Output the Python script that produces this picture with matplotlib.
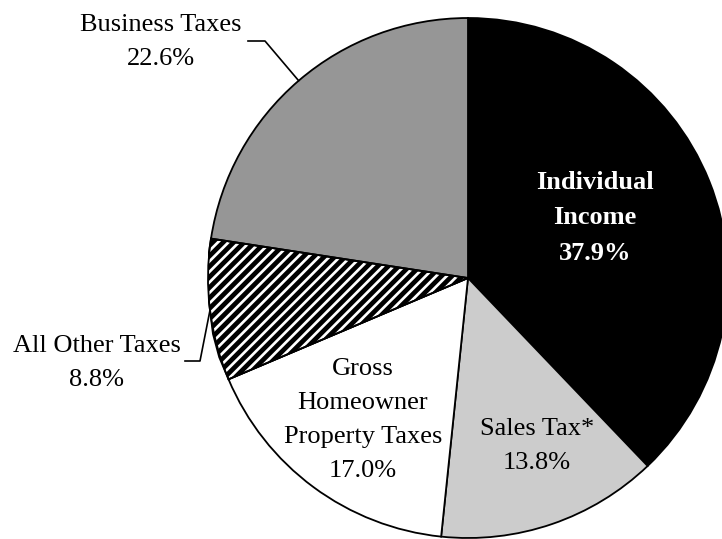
import numpy as np
import matplotlib
matplotlib.use("Agg")
import matplotlib.pyplot as plt
from matplotlib.collections import LineCollection

plt.rcParams['font.family'] = ['Liberation Serif', 'DejaVu Serif']

labels = ["Individual\nIncome", "Sales Tax*", "Gross\nHomeowner\nProperty Taxes",
          "All Other Taxes", "Business Taxes"]
values = [37.9, 13.8, 17.0, 8.8, 22.6]
colors = ["#000000", "#cccccc", "#ffffff", "#ffffff", "#969696"]

W, H = 722, 539
fig = plt.figure(figsize=(W / 100, H / 100), dpi=100)
cx, cy, R = 468, 278, 260  # pixel center / radius
ax = fig.add_axes([(cx - R) / W, (H - cy - R) / H, 2 * R / W, 2 * R / H])
ax.set_xlim(-1, 1)
ax.set_ylim(-1, 1)
ax.set_aspect('equal')
ax.axis('off')

wedges, _ = ax.pie(values, colors=colors, startangle=90, counterclock=False,
                   radius=1, center=(0, 0), frame=False,
                   wedgeprops=dict(edgecolor='black', linewidth=1.3))
ax.set_xlim(-1, 1)
ax.set_ylim(-1, 1)

# manual diagonal hatch for "All Other Taxes"
hw = wedges[3]
sp = 10.5 / R
segs = []
for c in np.arange(-3, 3, sp):
    segs.append([(-1.5, -1.5 + c), (1.5, 1.5 + c)])
lc = LineCollection(segs, colors='black', linewidths=3.4)
ax.add_collection(lc)
lc.set_clip_path(hw)
hw2 = ax.add_patch(plt.Polygon(hw.get_path().vertices, closed=True, fill=False,
                               edgecolor='black', linewidth=1.3))
hw2.set_transform(hw.get_transform())


def px(x, y):
    return ((x - cx) / R, (cy - y) / R)


fs = 19
ls = 1.72
# inside labels
ax.text(*px(595, 218), "Individual\nIncome\n37.9%", color='white', fontweight='bold',
        fontsize=fs, ha='center', va='center', linespacing=ls)
ax.text(*px(537, 446), "Sales Tax*\n13.8%", color='black',
        fontsize=fs, ha='center', va='center', linespacing=ls)
ax.text(*px(363, 420), "Gross\nHomeowner\nProperty Taxes\n17.0%", color='black',
        fontsize=fs, ha='center', va='center', linespacing=ls)
# outside labels
ax.text(*px(161, 42), "Business Taxes\n22.6%", color='black',
        fontsize=fs, ha='center', va='center', linespacing=ls)
ax.text(*px(97, 363), "All Other Taxes\n8.8%", color='black',
        fontsize=fs, ha='center', va='center', linespacing=ls)


def edge_point(w):
    ang = np.deg2rad((w.theta1 + w.theta2) / 2)
    return (np.cos(ang), np.sin(ang))

ex, ey = edge_point(wedges[4])
p1, p2 = px(248, 41), px(265, 41)
ax.plot([p1[0], p2[0], ex], [p1[1], p2[1], ey], color='black', lw=1.2, clip_on=False)
ex, ey = edge_point(wedges[3])
p1, p2 = px(185, 361), px(200, 361)
ax.plot([p1[0], p2[0], ex], [p1[1], p2[1], ey], color='black', lw=1.2, clip_on=False)

fig.savefig("out.png", dpi=100)
